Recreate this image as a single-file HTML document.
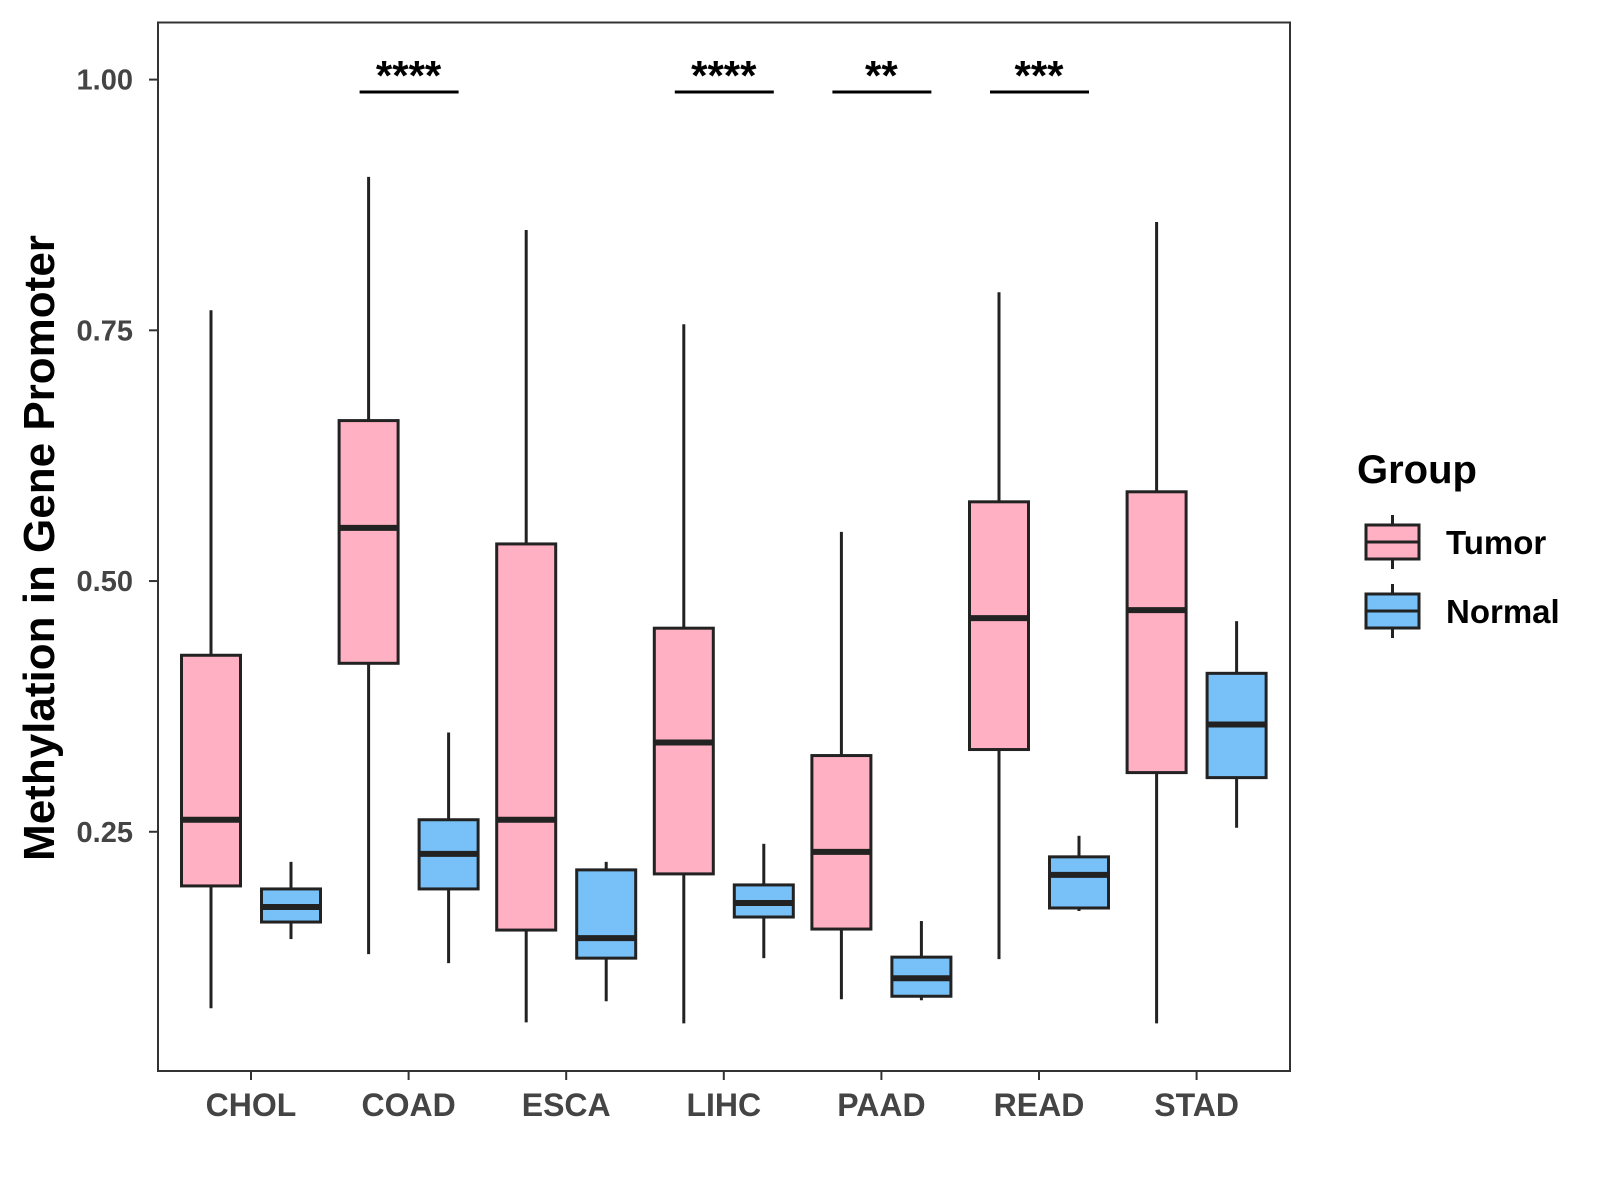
<!DOCTYPE html>
<html><head><meta charset="utf-8"><style>
html,body{margin:0;padding:0;background:#fff;}
svg{display:block;font-family:"Liberation Sans",Arial,sans-serif;font-weight:bold;}
</style></head><body>
<svg id="chart" width="1600" height="1200" viewBox="0 0 1600 1200"></svg>
<script>
const categories=["CHOL","COAD","ESCA","LIHC","PAAD","READ","STAD"];
// [low, q1, median, q3, high]
const tumorStats=[
[0.074,0.196,0.262,0.426,0.770],
[0.128,0.418,0.553,0.660,0.903],
[0.060,0.152,0.262,0.537,0.850],
[0.059,0.208,0.339,0.453,0.756],
[0.083,0.153,0.230,0.326,0.549],
[0.123,0.332,0.463,0.579,0.788],
[0.059,0.309,0.471,0.589,0.858]];
const normalStats=[
[0.143,0.160,0.175,0.193,0.220],
[0.119,0.193,0.228,0.262,0.349],
[0.081,0.124,0.144,0.212,0.220],
[0.124,0.165,0.179,0.197,0.238],
[0.082,0.086,0.104,0.125,0.161],
[0.171,0.174,0.207,0.225,0.246],
[0.254,0.304,0.357,0.408,0.460]];
const yTicks=[0.25,0.50,0.75,1.00];
const yTickLabels=["0.25","0.50","0.75","1.00"];
const sigCats=["COAD","LIHC","PAAD","READ"];
const sigLabels=["****","****","**","***"];

const NS="http://www.w3.org/2000/svg";
const svg=document.getElementById('chart');
const L=158,T=22.5,R=1290,B=1071;
const y=v=>79.6+(1-v)*1002.9;
const x=i=>251+i*157.6;
function mk(tag,attrs,parent){const e=document.createElementNS(NS,tag);for(const k in attrs)e.setAttribute(k,attrs[k]);(parent||svg).appendChild(e);return e;}
const stroke="#222";

const panel=mk('rect',{x:L,y:T,width:R-L,height:B-T,fill:'none',stroke:'#333','stroke-width':2});



yTicks.forEach((v,i)=>{
  const t=mk('line',{x1:L-9,x2:L,y1:y(v),y2:y(v),stroke:'#333','stroke-width':2});
  
  
  const lab=mk('text',{x:L-25,y:y(v)+10,'text-anchor':'end','font-size':29,fill:'#444'});
  lab.textContent=yTickLabels[i];
  
  
});
categories.forEach((c,i)=>{
  const t=mk('line',{x1:x(i),x2:x(i),y1:B,y2:B+9,stroke:'#333','stroke-width':2});
  
  
  const lab=mk('text',{x:x(i),y:1116,'text-anchor':'middle','font-size':32,fill:'#444'});
  lab.textContent=c;
  
  
});

function drawBox(s,cx,fill,name){
  const g=mk('g',{});
  
  
  const w=59;
  mk('line',{x1:cx,x2:cx,y1:y(s[4]),y2:y(s[3]),stroke:stroke,'stroke-width':3},g);
  mk('line',{x1:cx,x2:cx,y1:y(s[1]),y2:y(s[0]),stroke:stroke,'stroke-width':3},g);
  mk('rect',{x:cx-w/2,y:y(s[3]),width:w,height:y(s[1])-y(s[3]),fill:fill,stroke:stroke,'stroke-width':3},g);
  mk('line',{x1:cx-w/2,x2:cx+w/2,y1:y(s[2]),y2:y(s[2]),stroke:stroke,'stroke-width':6},g);
}
categories.forEach((c,i)=>{
  drawBox(tumorStats[i],x(i)-40,'#FFB0C2','tumor-box-'+c.toLowerCase());
  drawBox(normalStats[i],x(i)+40,'#77C1F8','normal-box-'+c.toLowerCase());
});
sigCats.forEach((c,k)=>{
  const i=categories.indexOf(c);
  const l=mk('line',{x1:x(i)-49,x2:x(i)+50,y1:92,y2:92,stroke:'#000','stroke-width':3});
  
  
  const t=mk('text',{x:x(i),y:90,'text-anchor':'middle','font-size':42,fill:'#000'});
  t.textContent=sigLabels[k];
  
  
});
const yt=mk('text',{x:0,y:0,'text-anchor':'middle','font-size':44,fill:'#000',transform:'translate(54,548) rotate(-90)'});
yt.textContent='Methylation in Gene Promoter';



const lt=mk('text',{x:1357,y:483,'font-size':40,fill:'#000'});
lt.textContent='Group';


[['Tumor','#FFB0C2',525],['Normal','#77C1F8',594]].forEach(([n,f,ty])=>{
  const g=mk('g',{});
  
  
  const cx=1392.5,h=34;
  mk('line',{x1:cx,x2:cx,y1:ty-10,y2:ty+h+10,stroke:stroke,'stroke-width':3},g);
  mk('rect',{x:1366,y:ty,width:53,height:h,fill:f,stroke:stroke,'stroke-width':3},g);
  mk('line',{x1:1366,x2:1419,y1:ty+h/2,y2:ty+h/2,stroke:stroke,'stroke-width':3},g);
  const t=mk('text',{x:1446,y:ty+29,'font-size':33,fill:'#000'},g);
  t.textContent=n;
});
</script>
</body></html>
